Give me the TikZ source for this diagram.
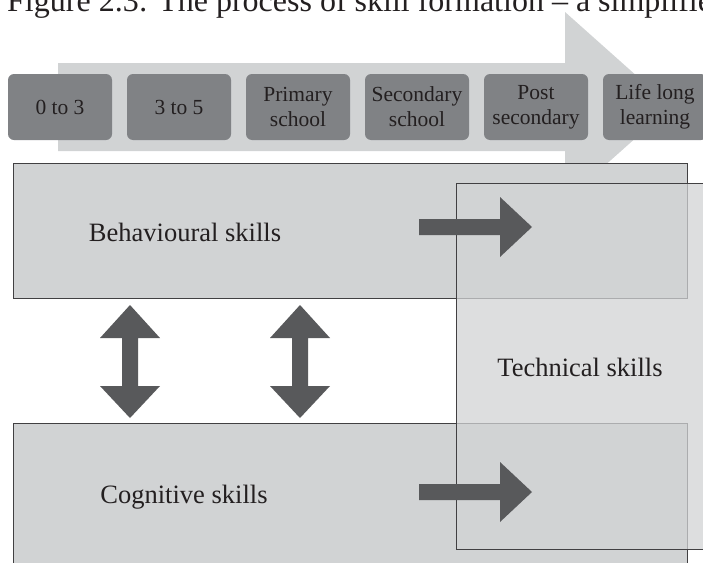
\documentclass[tikz,border=0pt]{standalone}
\usepackage{fontspec}
\setmainfont{Liberation Serif}
\definecolor{paleband}{HTML}{D1D3D4}
\definecolor{agegray}{HTML}{808285}
\definecolor{skillfill}{HTML}{D1D3D4}
\definecolor{arrowdark}{HTML}{58595B}
\definecolor{edgegray}{HTML}{414042}
\definecolor{inkdark}{HTML}{231F20}
\tikzset{
    agebox/.style={rectangle,rounded corners=6pt,fill=agegray,text=inkdark,minimum width=104pt,minimum height=66pt,inner sep=0pt,align=center,font=\fontsize{21.5}{25}\selectfont},
    skillbox/.style={rectangle,fill=skillfill,draw=edgegray,line width=0.8pt,anchor=north west,inner sep=0pt},
    skilltext/.style={text=inkdark,font=\fontsize{26.5}{30}\selectfont},
    pics/push arrow/.style={code={
        \fill[arrowdark] (0,-8) -- (81,-8) -- (81,-30) -- (113,0) -- (81,30) -- (81,8) -- (0,8) -- cycle;}},
    pics/link arrow/.style={code={
        \fill[arrowdark] (0,-56.5) -- (30,-23.5) -- (8,-23.5) -- (8,24.5) -- (30,24.5) -- (0,56.5)
            -- (-30,24.5) -- (-8,24.5) -- (-8,-23.5) -- (-30,-23.5) -- cycle;}}
}
\begin{document}
\begin{tikzpicture}[x=1pt,y=-1pt]
            \useasboundingbox (0,0) rectangle (703,562);
            \clip (0,0) rectangle (703,562);
            \node[anchor=base west,inner sep=0pt,text=inkdark,font=\fontsize{32}{36}\selectfont] (title) at (7,12) {Figure 2.3: The process of skill formation – a simplified};
            \fill[paleband] (58,63) -- (565,63) -- (565,12) -- (671,106.5) -- (565,201) -- (565,151) -- (58,151) -- cycle;
            \foreach \name/\lab [count=\i from 0] in {zero/0 to 3,three/3 to 5,primary/Primary\\school,secondary/Secondary\\school,post/Post\\secondary,lifelong/Life long\\learning}
                \node[agebox] (\name) at ({60+119*\i},107) {\lab};
            \node[skillbox,minimum width=674pt,minimum height=135pt] (behav) at (13,163) {};
            \node[skillbox,minimum width=674pt,minimum height=160pt] (cogn) at (13,423) {};
            \pic (linkA) at (130,361.5) {link arrow};
            \pic (linkB) at (300,361.5) {link arrow};
            \node[skillbox,fill opacity=0.74,minimum width=300pt,minimum height=366pt] (tech) at (456,183) {};
            \pic (pushA) at (419,227) {push arrow};
            \pic (pushB) at (419,492) {push arrow};
            \node[skilltext] (behavtext) at (185,232) {Behavioural skills};
            \node[skilltext] (cogntext) at (184,497) {Cognitive skills};
            \node[skilltext] (techtext) at (580,367) {Technical skills};
        \end{tikzpicture}
\end{document}
